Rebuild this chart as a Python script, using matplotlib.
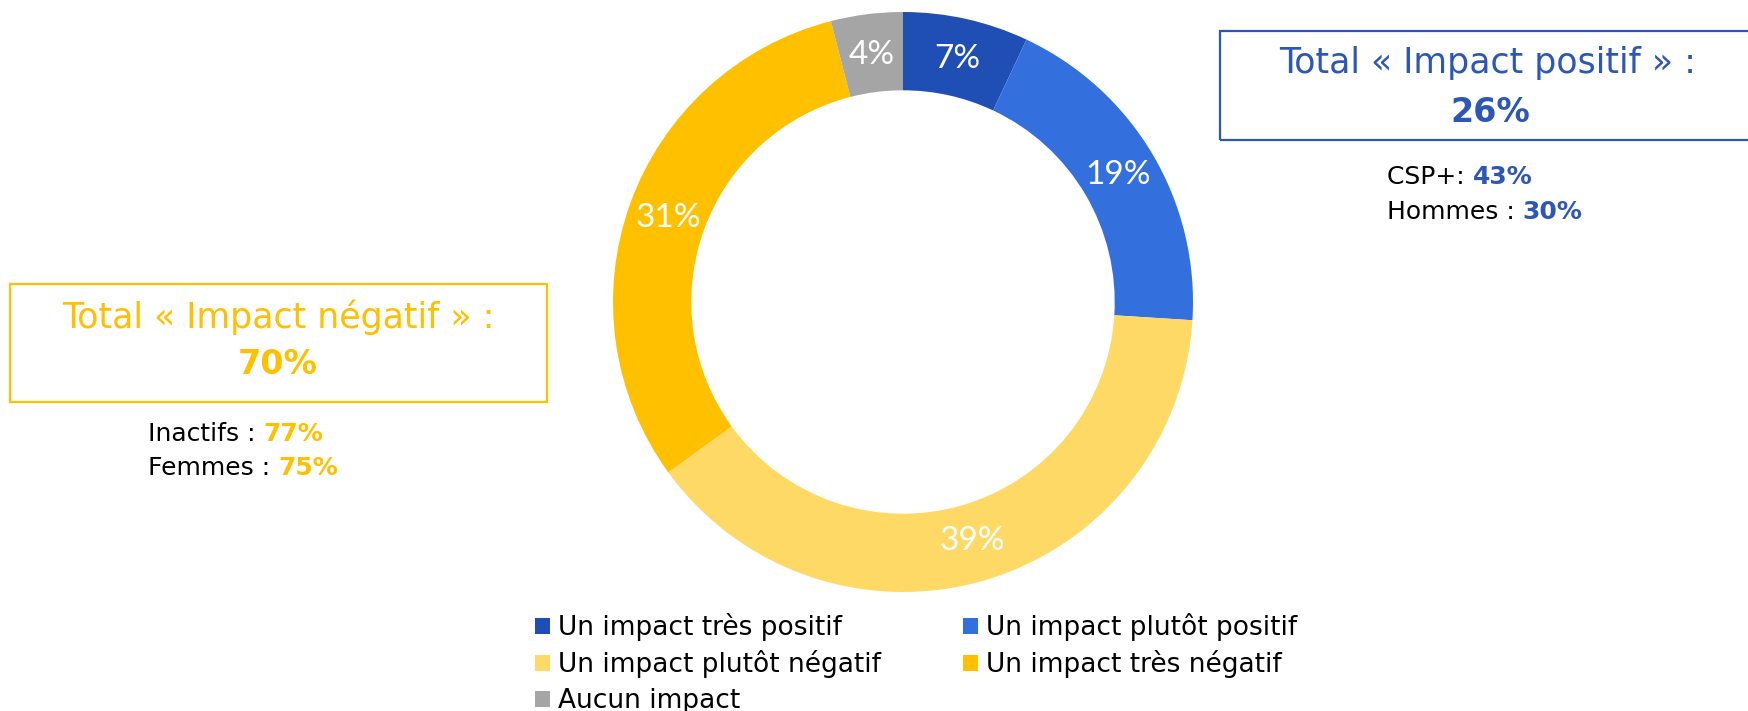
import matplotlib

matplotlib.use("Agg")
import matplotlib.pyplot as plt
from matplotlib.patches import Patch, Rectangle

plt.rcParams["font.family"] = ["DejaVu Sans"]

# slices, clockwise from 12 o'clock
LABELS = [
    "Un impact très positif",
    "Un impact plutôt positif",
    "Un impact plutôt négatif",
    "Un impact très négatif",
    "Aucun impact",
]
VALUES = [7, 19, 39, 31, 4]
COLORS = ["#1F4EB4", "#3370DE", "#FFD966", "#FFC000", "#A5A5A5"]

POS_TOTAL = "26%"
NEG_TOTAL = "70%"
POS_DETAILS = [("CSP+: ", "43%"), ("Hommes : ", "30%")]
NEG_DETAILS = [("Inactifs : ", "77%"), ("Femmes : ", "75%")]

BLUE_TXT = "#2C56B8"
YELLOW_TXT = "#FFC000"

W, H = 1748, 711
fig = plt.figure(figsize=(W / 100, H / 100), dpi=100)


def fx(x):
    return x / W


def fy(y):
    return 1 - y / H


# donut, centre (903, 302) px, radius 290 px
cx, cy, r = 903, 302, 290
ax = fig.add_axes([fx(cx - r), fy(cy + r), 2 * r / W, 2 * r / H])
ax.pie(
    VALUES,
    colors=COLORS,
    startangle=90,
    counterclock=False,
    radius=1,
    autopct=lambda p: f"{p:.0f}%",
    pctdistance=0.86,
    wedgeprops={"width": 0.27, "linewidth": 0},
    textprops={"color": "white", "fontsize": 24, "family": "Lato"},
)
ax.set_xlim(-1, 1)
ax.set_ylim(-1, 1)
ax.axis("off")

# boxes (the positive one runs off the right edge)
fig.add_artist(Rectangle((fx(1220), fy(140)), fx(560), (140 - 31) / H,
                         fill=False, edgecolor=BLUE_TXT, linewidth=1.6,
                         transform=fig.transFigure))
fig.add_artist(Rectangle((fx(10), fy(402)), fx(537), (402 - 284) / H,
                         fill=False, edgecolor=YELLOW_TXT, linewidth=1.6,
                         transform=fig.transFigure))

fig.text(fx(1488), fy(63), "Total « Impact positif » :", color=BLUE_TXT,
         fontsize=25, ha="center", va="center")
fig.text(fx(1490), fy(112), POS_TOTAL, color=BLUE_TXT, fontsize=24,
         fontweight="bold", ha="center", va="center")
fig.text(fx(278), fy(317), "Total « Impact négatif » :", color=YELLOW_TXT,
         fontsize=25, ha="center", va="center")
fig.text(fx(278), fy(364), NEG_TOTAL, color=YELLOW_TXT, fontsize=24,
         fontweight="bold", ha="center", va="center")


def detail_lines(x, ys, items, color):
    for y, (lab, val) in zip(ys, items):
        t = fig.text(fx(x), fy(y), lab, color="black", fontsize=18,
                     ha="left", va="baseline")
        fig.add_artist(plt.Annotation(val, xy=(1, 0), xycoords=t,
                                      xytext=(0, 0), textcoords="offset points",
                                      color=color, fontsize=18,
                                      fontweight="bold", ha="left",
                                      va="bottom"))


detail_lines(1387, [184, 219], POS_DETAILS, BLUE_TXT)
detail_lines(148, [441, 475], NEG_DETAILS, YELLOW_TXT)

# legend, row-major order in two columns
order = [0, 2, 4, 1, 3]
handles = [Patch(facecolor=COLORS[i], edgecolor="none") for i in order]
fig.legend(
    handles,
    [LABELS[i] for i in order],
    ncol=2,
    loc="upper left",
    bbox_to_anchor=(fx(535), fy(613)),
    frameon=False,
    fontsize=19,
    handlelength=0.57,
    handleheight=0.57,
    handletextpad=0.3,
    labelspacing=0.36,
    columnspacing=3.1,
    borderpad=0,
    borderaxespad=0,
)

fig.savefig("out.png", dpi=100)
